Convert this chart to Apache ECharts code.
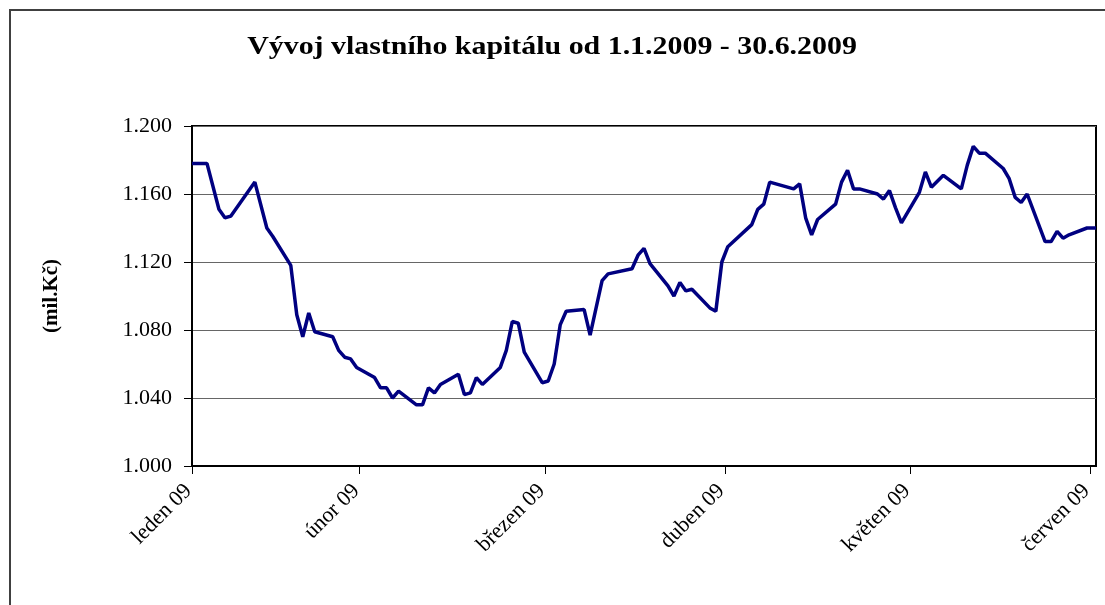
<!DOCTYPE html>
<html>
<head>
<meta charset="utf-8">
<script src="https://cdn.jsdelivr.net/npm/echarts@6/dist/echarts.min.js"></script>
<style>
  * { margin: 0; padding: 0; }
  body { background: #fff; }
  #frame {
    position: absolute; left: 9px; top: 9px; width: 1110px; height: 594px;
    border: 2px solid #404040;
  }
  #main { position: absolute; left: 0; top: 0; width: 1105px; height: 605px; }
</style>
</head>
<body>
<div id="frame"></div>
<div id="main"></div>
<script>
// den od počátku osy (31.1.) a hodnota vlastního kapitálu v mil. Kč
var dayPos = [0, 2.5, 4.5, 5.5, 6.5, 10.5, 12.5, 13.5, 16.5, 17.5,
  18.5, 19.5, 20.5, 23.5, 24.5, 25.5, 26.5, 27.5, 30.5, 31.5,
  32.5, 33.5, 34.5, 37.5, 38.5, 39.5, 40.5, 41.5, 44.5, 45.5,
  46.5, 47.5, 48.5, 51.5, 52.5, 53.5, 54.5, 55.5, 58.5, 59.5,
  60.5, 61.5, 62.5, 65.5, 66.5, 68.5, 69.5, 73.5, 74.5, 75.5,
  76.5, 79.5, 80.5, 81.5, 82.5, 83.5, 86.5, 87.5, 88.5, 89.5,
  93.5, 94.5, 95.5, 96.5, 100.5, 101.5, 102.5, 103.5, 104.5, 107.5,
  108.5, 109.5, 110.5, 111.5, 114.5, 115.5, 116.5, 117.5, 118.5, 121.5,
  122.5, 123.5, 125.5, 128.5, 129.5, 130.5, 131.5, 132.5, 135.5, 136.5,
  137.5, 138.5, 139.5, 142.5, 143.5, 144.5, 145.5, 146.5, 149.5, 151];

var equity = [1.178, 1.178, 1.151, 1.146, 1.147, 1.167, 1.140, 1.135, 1.118, 1.089,
  1.076, 1.090, 1.079, 1.076, 1.068, 1.064, 1.063, 1.058, 1.052, 1.046,
  1.046, 1.040, 1.044, 1.036, 1.036, 1.046, 1.043, 1.048, 1.054, 1.042,
  1.043, 1.052, 1.048, 1.058, 1.068, 1.085, 1.084, 1.067, 1.049, 1.050,
  1.060, 1.083, 1.091, 1.092, 1.077, 1.109, 1.113, 1.116, 1.124, 1.128,
  1.119, 1.106, 1.100, 1.108, 1.103, 1.104, 1.093, 1.091, 1.120, 1.129,
  1.142, 1.151, 1.154, 1.167, 1.163, 1.166, 1.146, 1.136, 1.145, 1.154,
  1.167, 1.174, 1.163, 1.163, 1.160, 1.157, 1.162, 1.152, 1.143, 1.161,
  1.173, 1.164, 1.171, 1.163, 1.177, 1.188, 1.184, 1.184, 1.175, 1.169,
  1.158, 1.155, 1.160, 1.132, 1.132, 1.138, 1.134, 1.136, 1.140, 1.140];

// popisky měsíců na ose x
var monthTicks = [0, 28, 59, 89, 120, 150];
var monthNames = ["leden 09", "únor 09", "březen 09", "duben 09", "květen 09", "červen 09"];

var titleText = "Vývoj vlastního kapitálu od 1.1.2009 - 30.6.2009";
var serif = "Liberation Serif, Times New Roman, serif";

var points = [];
for (var i = 0; i < dayPos.length; i++) {
  points.push([dayPos[i], equity[i]]);
}

var chart = echarts.init(document.getElementById("main"));
chart.setOption({
  animation: false,
  // nadpis jako text (v originále je písmo roztažené do šířky)
  graphic: [
    {
      type: "text",
      x: 552,
      y: 47,
      scaleX: 1.15,
      style: {
        text: titleText,
        fontFamily: serif,
        fontSize: 26,
        fontWeight: "bold",
        fill: "#000",
        align: "center",
        verticalAlign: "middle"
      }
    }
  ],
  grid: {
    left: 192, right: 9, top: 126, bottom: 139,
    show: true, borderColor: "#000", borderWidth: 2, backgroundColor: "#fff"
  },
  xAxis: {
    type: "value",
    min: 0,
    max: 151,
    axisLine: { onZero: false, lineStyle: { color: "#000", width: 2 } },
    axisTick: { customValues: monthTicks, length: 8, lineStyle: { color: "#000" } },
    axisLabel: {
      customValues: monthTicks,
      rotate: 45,
      margin: 18,
      padding: [0, 5, 0, 0],
      fontFamily: serif,
      fontSize: 22,
      color: "#000",
      formatter: function (v) { return monthNames[monthTicks.indexOf(v)]; }
    },
    splitLine: { show: false }
  },
  yAxis: {
    type: "value",
    min: 1.0,
    max: 1.2,
    interval: 0.04,
    name: "(mil.Kč)",
    nameLocation: "middle",
    nameGap: 130,
    nameRotate: 90,
    nameTextStyle: { fontFamily: serif, fontSize: 21, fontWeight: "bold", color: "#000" },
    axisLine: { show: true, lineStyle: { color: "#000", width: 2 } },
    axisTick: { show: true, length: 8, lineStyle: { color: "#000" } },
    axisLabel: {
      margin: 20,
      fontFamily: serif,
      fontSize: 22,
      color: "#000",
      formatter: function (v) { return v.toFixed(3); }
    },
    splitLine: { lineStyle: { color: "#666", width: 1 } }
  },
  series: [
    {
      type: "line",
      data: points,
      showSymbol: false,
      lineStyle: { color: "#000080", width: 3.5 },
      itemStyle: { color: "#000080" }
    }
  ]
});
</script>
</body>
</html>
